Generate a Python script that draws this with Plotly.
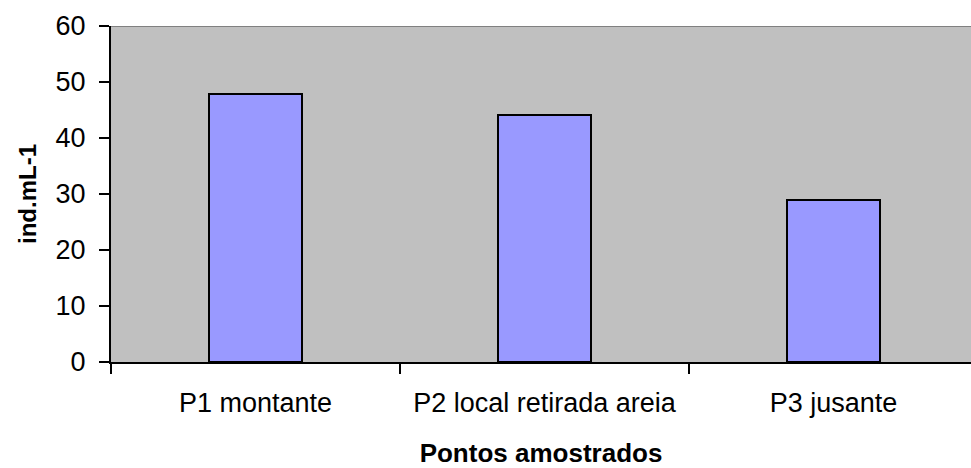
import plotly.graph_objects as go

# Sampling points and organism density (ind.mL-1)
pontos = ["P1 montante", "P2 local retirada areia", "P3 jusante"]
densidade = [47.8, 44.1, 29.0]
y_ticks = [0, 10, 20, 30, 40, 50, 60]

FONT = "Liberation Sans, Arial, sans-serif"

fig = go.Figure(
    go.Bar(
        x=pontos,
        y=densidade,
        width=0.32,
        marker=dict(color="#9999FF", line=dict(color="#000000", width=2)),
    )
)

fig.update_layout(
    width=971,
    height=468,
    margin=dict(l=111, r=0, t=26, b=106),
    paper_bgcolor="#FFFFFF",
    plot_bgcolor="#C0C0C0",
    showlegend=False,
    font=dict(family=FONT, size=27, color="#000000"),
    bargap=0,
)

fig.update_xaxes(
    type="category",
    range=[-0.5, 2.476],
    showline=True,
    linecolor="#000000",
    linewidth=2,
    ticks="outside",
    tickson="boundaries",
    ticklen=10,
    tickwidth=2,
    tickcolor="#000000",
    ticklabelstandoff=16,
    showgrid=False,
    zeroline=False,
    tickfont=dict(family=FONT, size=27),
    title=dict(
        text="<b>Pontos amostrados</b>",
        font=dict(family=FONT, size=26),
        standoff=28,
    ),
)

fig.update_yaxes(
    range=[0, 60],
    tickvals=y_ticks,
    showline=True,
    linecolor="#000000",
    linewidth=2,
    ticks="outside",
    ticklen=10,
    tickwidth=2,
    tickcolor="#000000",
    ticklabelstandoff=8,
    showgrid=False,
    zeroline=False,
    tickfont=dict(family=FONT, size=27),
    title=dict(
        text="<b>ind.mL-1</b>",
        font=dict(family=FONT, size=24),
        standoff=12,
    ),
)

# grey top border of the plot area
fig.add_shape(
    type="line",
    xref="paper",
    yref="y",
    x0=0,
    x1=1,
    y0=60,
    y1=60,
    line=dict(color="#808080", width=2),
)

fig.write_html("out.html")
